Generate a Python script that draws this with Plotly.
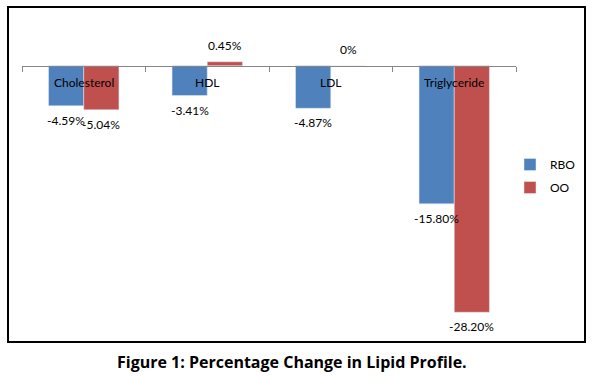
import plotly.graph_objects as go

categories = ["Cholesterol", "HDL", "LDL", "Triglyceride"]
rbo = [-4.59, -3.41, -4.87, -15.80]
oo = [-5.04, 0.45, 0.0, -28.20]
rbo_labels = ["-4.59%", "-3.41%", "-4.87%", "-15.80%"]
oo_labels = ["-5.04%", "0.45%", "0%", "-28.20%"]
caption = "Figure 1: Percentage Change in Lipid Profile."

FONT = "Lato"
W, H = 593, 377
L, R, T, B = 22, 77, 22, 49
pw, ph = W - L - R, H - T - B
ymin, ymax = -30, 5
BARGAP = 0.43


def px_x(p):
    return (p - L) / pw


def px_y(p):
    return (H - B - p) / ph


fig = go.Figure()
fig.add_trace(go.Bar(x=categories, y=rbo, name="RBO", marker_color="#4F81BD",
                     legendgroup="a", hoverinfo="skip"))
fig.add_trace(go.Bar(x=categories, y=oo, name="OO", marker_color="#C0504D",
                     legendgroup="b", hoverinfo="skip"))

# data labels, offset to each bar's centre
half = pw / len(categories) * (1 - BARGAP) / 4
for vals, labels, sh in ((rbo, rbo_labels, -half), (oo, oo_labels, half)):
    for c, v, t in zip(categories, vals, labels):
        neg = v < 0
        fig.add_annotation(x=c, y=v, xref="x", yref="y", text=t, showarrow=False,
                           xshift=sh, yanchor="top" if neg else "bottom",
                           yshift=-5 if neg else 7,
                           font=dict(family=FONT, size=12, color="black"))

for c in categories:
    fig.add_annotation(x=c, y=0, xref="x", yref="y", text=c, showarrow=False,
                       yanchor="middle", yshift=-17,
                       font=dict(family=FONT, size=12, color="black"))

fig.add_annotation(x=px_x(292), y=px_y(362), xref="paper", yref="paper",
                   text="<b>" + caption + "</b>", showarrow=False,
                   xanchor="center", yanchor="middle",
                   font=dict(family="Open Sans", size=16, color="black"))

fig.add_shape(type="rect", xref="paper", yref="paper",
              x0=px_x(8), x1=px_x(585), y0=px_y(342), y1=px_y(7),
              line=dict(color="black", width=2), fillcolor="rgba(0,0,0,0)")

fig.update_layout(
    width=W, height=H,
    margin=dict(l=L, r=R, t=T, b=B, pad=0, autoexpand=False),
    paper_bgcolor="white", plot_bgcolor="white",
    barmode="group", bargap=BARGAP, bargroupgap=0,
    showlegend=True,
    legend=dict(x=px_x(510), y=px_y(150), xanchor="left", yanchor="top",
                font=dict(family=FONT, size=12, color="black"),
                tracegroupgap=4, traceorder="grouped",
                bgcolor="rgba(0,0,0,0)"),
    xaxis=dict(anchor="free", position=(0 - ymin) / (ymax - ymin),
               showline=True, linecolor="#868686", linewidth=1,
               ticks="outside", tickson="boundaries", ticklen=5,
               tickcolor="#868686", showticklabels=False, showgrid=False,
               zeroline=False, fixedrange=True),
    yaxis=dict(range=[ymin, ymax], visible=False, showgrid=False,
               zeroline=False, fixedrange=True),
)

fig.write_html("out.html", config={"displayModeBar": False},
               post_script="document.body.style.margin='0';document.body.style.overflow='hidden';")
